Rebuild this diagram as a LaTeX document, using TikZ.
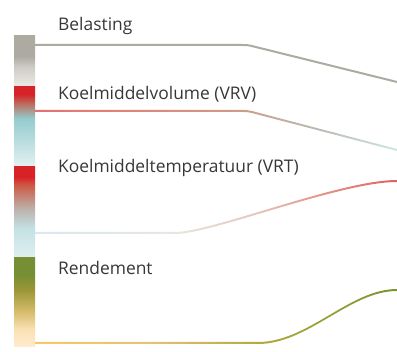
\documentclass[tikz,border=0pt]{standalone}
\usepackage{fontspec}
\setmainfont{Open Sans}
\usetikzlibrary{positioning}

% colours
\definecolor{txt}{RGB}{55,55,55}
\definecolor{loadgray}{RGB}{172,170,161}
\definecolor{loadmid}{RGB}{205,203,196}
\definecolor{loadlight}{RGB}{236,235,231}
\definecolor{vrred}{RGB}{215,35,40}
\definecolor{vrvbrown}{RGB}{185,115,100}
\definecolor{vrvteal}{RGB}{148,203,206}
\definecolor{vrvlight}{RGB}{228,241,241}
\definecolor{vrtsalmon}{RGB}{205,90,70}
\definecolor{vrtgray}{RGB}{188,175,168}
\definecolor{vrtcyan}{RGB}{195,225,228}
\definecolor{vrtlight}{RGB}{224,239,240}
\definecolor{rendgreen}{RGB}{118,143,52}
\definecolor{rendolive}{RGB}{155,150,55}
\definecolor{rendtan}{RGB}{215,190,110}
\definecolor{rendcream}{RGB}{250,224,180}
\definecolor{rendlight}{RGB}{255,236,206}

% bar shadings (bottom to top, visible part 25bp--75bp)
\pgfdeclareverticalshading{loadbar}{100bp}{color(0bp)=(loadlight); color(25bp)=(loadlight); color(45bp)=(loadmid); color(55bp)=(loadgray); color(100bp)=(loadgray)}
\pgfdeclareverticalshading{vrvbar}{100bp}{color(0bp)=(vrvlight); color(25bp)=(vrvlight); color(55.5bp)=(vrvteal); color(64bp)=(vrvbrown); color(70.5bp)=(vrred); color(100bp)=(vrred)}
\pgfdeclareverticalshading{vrtbar}{100bp}{color(0bp)=(vrtlight); color(25bp)=(vrtlight); color(41.5bp)=(vrtcyan); color(52.5bp)=(vrtgray); color(65bp)=(vrtsalmon); color(69.5bp)=(vrred); color(100bp)=(vrred)}
\pgfdeclareverticalshading{rendbar}{100bp}{color(0bp)=(rendlight); color(25bp)=(rendlight); color(35bp)=(rendcream); color(44.5bp)=(rendtan); color(57bp)=(rendolive); color(65.5bp)=(rendgreen); color(100bp)=(rendgreen)}

% line shadings (left to right, visible part 25bp--75bp)
\pgfdeclarehorizontalshading{vrvflow}{100bp}{color(0bp)=(rgb,255:red,228;green,112;blue,115); color(25bp)=(rgb,255:red,228;green,112;blue,115); color(34bp)=(rgb,255:red,226;green,128;blue,115); color(54bp)=(rgb,255:red,203;green,158;blue,138); color(64bp)=(rgb,255:red,186;green,188;blue,178); color(75bp)=(rgb,255:red,208;green,229;blue,229); color(100bp)=(rgb,255:red,208;green,229;blue,229)}
\pgfdeclarehorizontalshading{vrtflow}{100bp}{color(0bp)=(rgb,255:red,214;green,234;blue,237); color(25bp)=(rgb,255:red,214;green,234;blue,237); color(43.5bp)=(rgb,255:red,232;green,231;blue,227); color(55bp)=(rgb,255:red,230;green,200;blue,190); color(66bp)=(rgb,255:red,226;green,140;blue,130); color(75bp)=(rgb,255:red,224;green,98;blue,98); color(100bp)=(rgb,255:red,224;green,98;blue,98)}
\pgfdeclarehorizontalshading{rendflow}{100bp}{color(0bp)=(rgb,255:red,250;green,200;blue,100); color(25bp)=(rgb,255:red,250;green,200;blue,100); color(41bp)=(rgb,255:red,226;green,196;blue,118); color(56bp)=(rgb,255:red,178;green,170;blue,62); color(75bp)=(rgb,255:red,122;green,148;blue,50); color(100bp)=(rgb,255:red,122;green,148;blue,50)}

\tikzstyle{bar} = [rectangle, minimum width=21pt, anchor=north west, inner sep=0pt, outer sep=0pt]
\tikzstyle{barlabel} = [anchor=base west, inner sep=0pt, text=txt, font=\fontsize{17.4}{20}\selectfont]
\tikzstyle{flow} = [line width=2pt]

\begin{document}
\begin{tikzpicture}[x=1pt, y=-1pt]
\useasboundingbox (0,0) rectangle (397,352);

% Bars
\node (load) [bar, minimum height=51pt, shading=loadbar] at (14,36) {};
\node (vrv) [bar, minimum height=80pt, shading=vrvbar] at (14,87) {};
\node (vrt) [bar, minimum height=91pt, shading=vrtbar] at (14,167) {};
\node (rend) [bar, minimum height=89pt, shading=rendbar] at (14,258) {};

% Labels
\node (loadtxt) [barlabel] at (58,31) {Belasting};
\node (vrvtxt) [barlabel] at (58,100) {Koelmiddelvolume (VRV)};
\node (vrttxt) [barlabel] at (58,173) {Koelmiddeltemperatuur (VRT)};
\node (rendtxt) [barlabel] at (58,275) {Rendement};

% Line ends at the right edge
\coordinate (loadend) at (397,82);
\coordinate (vrvend) at (397,150);
\coordinate (vrtend) at (397,181);
\coordinate (rendend) at (397,290);

% Belasting
\draw [flow, draw=loadgray] ([yshift=-9pt]load.north east) -- (240,45) .. controls (248,45) .. (255.8,47) -- (loadend);

% VRV (shaded band)
\shade [shading=vrvflow] ([yshift=-23pt]vrv.north east) -- (240,110) .. controls (248,110) .. (255.7,112) -- ([yshift=1pt]vrvend)
  -- ([yshift=-1pt]vrvend) -- (255.7,114) .. controls (248,112) .. (240,112) -- ([yshift=-25pt]vrv.north east) -- cycle;

% VRT (shaded band)
\shade [shading=vrtflow] ([yshift=-65pt]vrt.north east) -- (175,232) .. controls (212,232) and (340,180) .. ([yshift=1pt]vrtend)
  -- ([yshift=-1pt]vrtend) .. controls (340,182) and (212,234) .. (175,234) -- ([yshift=-67pt]vrt.north east) -- cycle;

% Rendement (shaded band)
\shade [shading=rendflow] ([yshift=-84pt]rend.north east) -- (258,342) .. controls (308,342) and (350,289) .. ([yshift=1pt]rendend)
  -- ([yshift=-1pt]rendend) .. controls (350,291) and (308,344) .. (258,344) -- ([yshift=-86pt]rend.north east) -- cycle;
\end{tikzpicture}
\end{document}
